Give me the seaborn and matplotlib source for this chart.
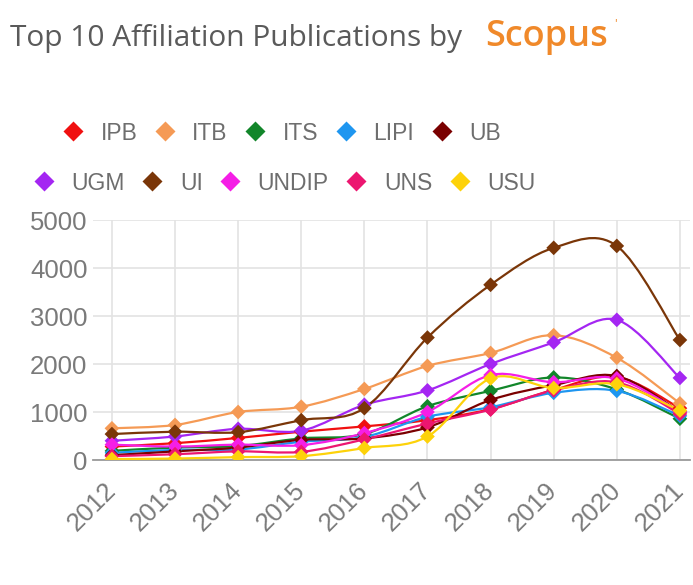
import numpy as np
import pandas as pd
import matplotlib
matplotlib.use("Agg")
import matplotlib.pyplot as plt
from matplotlib.path import Path
from matplotlib.patches import PathPatch
from matplotlib.lines import Line2D
import seaborn as sns

years = [2012, 2013, 2014, 2015, 2016, 2017, 2018, 2019, 2020, 2021]
affiliations = ["IPB", "ITB", "ITS", "LIPI", "UB", "UGM", "UI", "UNDIP", "UNS", "USU"]
ipb = [280, 350, 460, 590, 700, 830, 1060, 1460, 1730, 1080]
itb = [660, 730, 1000, 1110, 1480, 1960, 2230, 2600, 2130, 1180]
its = [190, 260, 290, 450, 540, 1120, 1440, 1720, 1470, 860]
lipi = [150, 210, 220, 380, 480, 900, 1100, 1400, 1440, 920]
ub = [100, 180, 260, 420, 450, 680, 1250, 1560, 1750, 1000]
ugm = [400, 490, 650, 610, 1150, 1450, 2000, 2450, 2920, 1710]
ui = [540, 590, 580, 830, 1080, 2550, 3650, 4420, 4460, 2500]
undip = [320, 280, 320, 310, 560, 1000, 1770, 1620, 1700, 1000]
uns = [80, 120, 180, 170, 430, 760, 1050, 1450, 1620, 960]
usu = [20, 30, 60, 80, 250, 490, 1700, 1500, 1580, 1030]
yticks = [0, 1000, 2000, 3000, 4000, 5000]

series = [ipb, itb, its, lipi, ub, ugm, ui, undip, uns, usu]
colors = ["#f01010", "#f59a55", "#12862a", "#1e96f0", "#7a0000",
          "#a426f2", "#7a3608", "#f51ee6", "#ec1670", "#fdd20a"]
palette = dict(zip(affiliations, colors))

df = pd.DataFrame({
    "year": np.tile(years, len(affiliations)),
    "pubs": np.concatenate(series),
    "affiliation": np.repeat(affiliations, len(years)),
})

sns.set_theme(style="white")
plt.rcParams["font.family"] = ["Liberation Sans", "DejaVu Sans"]

W, H = 693, 585
fig = plt.figure(figsize=(W / 100, H / 100), dpi=100)
fig.patch.set_facecolor("white")
ax = fig.add_axes([93 / W, 1 - 460 / H, (690 - 93) / W, (460 - 220) / H])


def smooth_path(xs, ys):
    xs = np.asarray(xs, float)
    ys = np.asarray(ys, float)
    n = len(xs)
    verts = [(xs[0], ys[0])]
    codes = [Path.MOVETO]
    def tangent(i):
        if i == 0:
            return (xs[1] - xs[0]) / 2, (ys[1] - ys[0]) / 2
        if i == n - 1:
            return (xs[-1] - xs[-2]) / 2, (ys[-1] - ys[-2]) / 2
        return (xs[i + 1] - xs[i - 1]) / 2, (ys[i + 1] - ys[i - 1]) / 2
    for i in range(n - 1):
        t0 = tangent(i)
        t1 = tangent(i + 1)
        c1 = (xs[i] + t0[0] / 3, ys[i] + t0[1] / 3)
        c2 = (xs[i + 1] - t1[0] / 3, ys[i + 1] - t1[1] / 3)
        verts += [c1, c2, (xs[i + 1], ys[i + 1])]
        codes += [Path.CURVE4] * 3
    return Path(verts, codes)


for name, vals in zip(affiliations, series):
    patch = PathPatch(smooth_path(years, vals), facecolor="none",
                      edgecolor=palette[name], lw=1.6, zorder=3)
    ax.add_patch(patch)

sns.scatterplot(data=df, x="year", y="pubs", hue="affiliation", palette=palette,
                marker="D", s=56, linewidth=0, legend=False, ax=ax, zorder=4)

ax.set_xlim(2011.70, 2021.16)
ax.set_ylim(0, 5000)
ax.set_xlabel("")
ax.set_ylabel("")
ax.set_xticks(years)
ax.set_xticklabels([str(y) for y in years], rotation=45, ha="right",
                   va="center", rotation_mode="anchor")
ax.set_yticks(yticks)
ax.set_yticklabels([str(v) for v in yticks])
ax.grid(True, color="#e3e3e3", lw=1.2)
ax.set_axisbelow(True)
for s in ["top", "right", "left"]:
    ax.spines[s].set_visible(False)
ax.spines["bottom"].set_color("#9a9a9a")
ax.spines["bottom"].set_linewidth(1.3)
ax.tick_params(axis="x", length=13, width=1.2, color="#e3e3e3", pad=6,
               labelsize=18.5, labelcolor="#7a7a7a")
ax.tick_params(axis="y", length=0, pad=4, labelsize=18.5, labelcolor="#7a7a7a")

# Title
fig.text(10 / W, 1 - 46 / H, "Top 10 Affiliation Publications by",
         fontsize=21.5, color="#5a5a5a", family=["Open Sans", "DejaVu Sans"],
         va="baseline", ha="left")
fig.text(485 / W, 1 - 46 / H, "Scopus", fontsize=26, color="#f0892a",
         weight="semibold", family=["Open Sans", "DejaVu Sans"],
         va="baseline", ha="left")
fig.text(614 / W, 1 - 28 / H, "'", fontsize=9, color="#f0892a",
         family=["Open Sans", "DejaVu Sans"], va="baseline", ha="left")


def make_handles(names):
    return [Line2D([0], [0], marker="D", color="none", markerfacecolor=palette[n],
                   markeredgecolor="none", markersize=10.5) for n in names]


leg_kw = dict(frameon=False, ncol=5, fontsize=16.5, handlelength=1.0,
              handletextpad=0.7, columnspacing=0.7, borderpad=0,
              borderaxespad=0, loc="center left", bbox_transform=fig.transFigure,
              labelcolor="#6e6e6e")
fig.legend(make_handles(affiliations[:5]), affiliations[:5],
           bbox_to_anchor=((73 - 11.5) / W, 1 - 133 / H), **leg_kw)
fig.legend(make_handles(affiliations[5:]), affiliations[5:],
           bbox_to_anchor=((44 - 11.5) / W, 1 - 183 / H), **leg_kw)

fig.savefig("out.png", dpi=100, facecolor="white")
